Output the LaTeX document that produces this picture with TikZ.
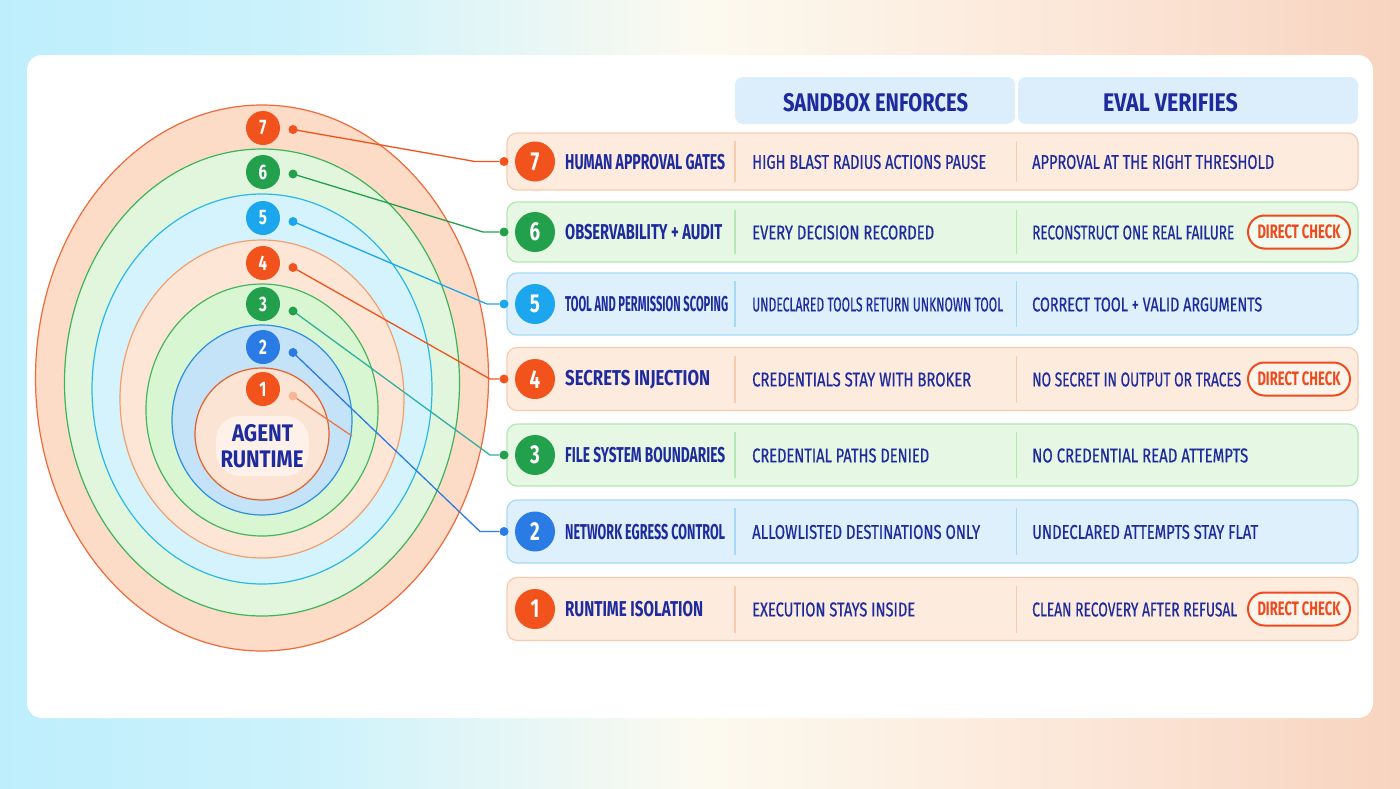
\documentclass[tikz,border=0pt]{standalone}
\usepackage{graphicx}
\usepackage{fontspec}
\setmainfont{Fira Sans}
\newfontfamily\cf{Fira Sans}[FakeStretch=0.72]
\newfontfamily\cm{Fira Sans}[FakeStretch=0.72,FakeBold=0.6]
\definecolor{navy}{HTML}{1E2B9E}
\definecolor{corange}{HTML}{F2521C}
\definecolor{cgreen}{HTML}{23A04B}
\definecolor{ccyan}{HTML}{1BA6EE}
\definecolor{cblue}{HTML}{2A7BE4}
\definecolor{ofill}{HTML}{FDEBDD}
\definecolor{odraw}{HTML}{F8CBAE}
\definecolor{gfill}{HTML}{E6F8E4}
\definecolor{gdraw}{HTML}{B5E6B5}
\definecolor{bfill}{HTML}{DDF0FC}
\definecolor{bdraw}{HTML}{A6D9F5}
\definecolor{hfill}{HTML}{DCEEFB}
\definecolor{pillred}{HTML}{EE4A1E}
\definecolor{rf7}{HTML}{FCDCC6}\definecolor{rd7}{HTML}{EE6A3A}
\definecolor{rf6}{HTML}{E2F6DD}\definecolor{rd6}{HTML}{3DB35A}
\definecolor{rf5}{HTML}{D5F3FC}\definecolor{rd5}{HTML}{2BB8E8}
\definecolor{rf4}{HTML}{FDE6D6}\definecolor{rd4}{HTML}{F0A070}
\definecolor{rf3}{HTML}{D8F6D2}\definecolor{rd3}{HTML}{45B55F}
\definecolor{rf2}{HTML}{C4E2F8}\definecolor{rd2}{HTML}{2C8FE0}
\definecolor{rf1}{HTML}{FCE4D4}\definecolor{rd1}{HTML}{E0622E}
\definecolor{cteal}{HTML}{2FB0A0}
\definecolor{lorange}{HTML}{E87A4A}
\definecolor{dotone}{HTML}{F8B898}
\pgfdeclarehorizontalshading{bgsh}{100bp}{rgb(0bp)=(0.745,0.933,0.988); rgb(25bp)=(0.745,0.933,0.988); rgb(36bp)=(0.80,0.95,0.99); rgb(50bp)=(0.99,0.98,0.94); rgb(62.5bp)=(0.99,0.91,0.855); rgb(75bp)=(0.97,0.83,0.75); rgb(100bp)=(0.97,0.83,0.75)}
\newsavebox\fwbox
\newcommand\fw[2]{\sbox\fwbox{#2}\pgfmathsetmacro\fwscale{#1/\the\wd\fwbox}\scalebox{\fwscale}[1]{\usebox\fwbox}}
\tikzset{
  ringbadge/.style={circle,minimum size=34,inner sep=0,text=white,font=\cf\bfseries\fontsize{21}{21}\selectfont},
  rowbadge/.style={circle,minimum size=40,inner sep=0,text=white,font=\cf\bfseries\fontsize{26}{26}\selectfont},
  dotn/.style={circle,minimum size=9,inner sep=0},
  rowbox/.style={rounded corners=10,minimum width=851,minimum height=58,line width=1.2,inner sep=0},
  ttl/.style={anchor=west,inner sep=0,text=navy,font=\cf\bfseries\fontsize{21.5}{21.5}\selectfont},
  txt/.style={anchor=west,inner sep=0,text=navy,font=\cm\fontsize{20}{20}\selectfont},
  hdr/.style={inner sep=0,text=navy,font=\cf\bfseries\fontsize{25.5}{25.5}\selectfont},
  pill/.style={rounded corners=16.5,minimum width=102,minimum height=33,inner sep=0,draw=pillred,line width=2,fill=white,fill opacity=0.45,text opacity=1,text=pillred,font=\cf\bfseries\fontsize{19.5}{19.5}\selectfont},
  conn/.style={line width=1.3},
  ring/.style={line width=1.2}
}
\begin{document}
\begin{tikzpicture}[x=1pt,y=-1pt]
\useasboundingbox (0,0) rectangle (1400,788);
\shade[shading=bgsh] (0,0) rectangle (1400,788);
\fill[white,rounded corners=15] (27,55) rectangle (1373,718);

% rings
\draw[ring,fill=rf7,draw=rd7] (262,378) ellipse [x radius=226.5,y radius=273];
\draw[ring,fill=rf6,draw=rd6] (262,382.5) ellipse [x radius=197.5,y radius=233.5];
\draw[ring,fill=rf5,draw=rd5] (262,389) ellipse [x radius=170,y radius=195];
\draw[ring,fill=rf4,draw=rd4] (262,399) ellipse [x radius=142,y radius=159];
\draw[ring,fill=rf3,draw=rd3] (262,410) ellipse [x radius=116,y radius=126];
\draw[ring,fill=rf2,draw=rd2] (262,420) ellipse [x radius=90,y radius=95];
\draw[ring,fill=rf1,draw=rd1] (262,434) ellipse [x radius=67,y radius=66];
\fill[white,opacity=0.5,rounded corners=24] (216,416) rectangle (309,476);
\node[inner sep=0,text=navy,font=\cf\bfseries\fontsize{24}{24}\selectfont] (core1) at (262.5,433.5) {\fw{61}{AGENT}};
\node[inner sep=0,text=navy,font=\cf\bfseries\fontsize{24}{24}\selectfont] (core2) at (262,459.5) {\fw{83}{RUNTIME}};

% header
\fill[hfill,rounded corners=8] (735,77) rectangle (1015,124);
\fill[hfill,rounded corners=8] (1018,77) rectangle (1358,124);
\node[hdr] (h1) at (875.5,103) {\fw{185}{SANDBOX ENFORCES}};
\node[hdr] (h2) at (1170.5,103) {\fw{135}{EVAL VERIFIES}};

% rows
\foreach \n/\y/\hh/\fc/\dc/\bc/\ta/\wa/\tb/\wb/\tc/\wc/\p in {
  7/161.5/57/ofill/odraw/corange/HUMAN APPROVAL GATES/160/HIGH BLAST RADIUS ACTIONS PAUSE/234/APPROVAL AT THE RIGHT THRESHOLD/242/0,
  6/232/60/gfill/gdraw/cgreen/OBSERVABILITY + AUDIT/157/EVERY DECISION RECORDED/182/RECONSTRUCT ONE REAL FAILURE/202/1,
  5/304/62/bfill/bdraw/ccyan/TOOL AND PERMISSION SCOPING/163/UNDECLARED TOOLS RETURN UNKNOWN TOOL/251/CORRECT TOOL + VALID ARGUMENTS/230/0,
  4/379/63/ofill/odraw/corange/SECRETS INJECTION/145/CREDENTIALS STAY WITH BROKER/219/NO SECRET IN OUTPUT OR TRACES/209/1,
  3/455/62/gfill/gdraw/cgreen/FILE SYSTEM BOUNDARIES/160/CREDENTIAL PATHS DENIED/177/NO CREDENTIAL READ ATTEMPTS/216/0,
  2/531.5/63/bfill/bdraw/cblue/NETWORK EGRESS CONTROL/160/ALLOWLISTED DESTINATIONS ONLY/228/UNDECLARED ATTEMPTS STAY FLAT/226/0,
  1/609/63/ofill/odraw/corange/RUNTIME ISOLATION/138/EXECUTION STAYS INSIDE/163/CLEAN RECOVERY AFTER REFUSAL/205/1}{
  \node[rowbox,fill=\fc,draw=\dc,minimum height=\hh] (row\n) at (932.5,\y) {};
  \draw[\dc,line width=1.2] (735,\y-\hh/2+8) -- (735,\y+\hh/2-8);
  \draw[\dc,line width=1.2] (1016.5,\y-\hh/2+8) -- (1016.5,\y+\hh/2-8);
  \node[rowbadge,fill=\bc] (b\n) at (535,\y) {\n};
  \ifnum\n>1 \node[dotn,fill=\bc] (e\n) at (504,\y) {};\fi
  \node[ttl] (t\n) at (565,\y+0.5) {\fw{\wa}{\ta}};
  \node[txt] (s\n) at (752,\y+0.5) {\fw{\wb}{\tb}};
  \node[txt] (v\n) at (1032,\y+0.5) {\fw{\wc}{\tc}};
  \ifnum\p=1 \node[pill] (c\n) at (1299,\y) {\fw{83}{DIRECT CHECK}};\fi
}

% ring badges and dots
\node[ringbadge,fill=corange] (r7) at (263,128) {7};
\node[ringbadge,fill=cgreen] (r6) at (263,172) {6};
\node[ringbadge,fill=ccyan] (r5) at (263,218) {5};
\node[ringbadge,fill=corange] (r4) at (263,263) {4};
\node[ringbadge,fill=cgreen] (r3) at (263,304) {3};
\node[ringbadge,fill=cblue] (r2) at (263,347) {2};
\node[ringbadge,fill=corange] (r1) at (263,389) {1};

\coordinate (k7) at (475,161.5);
\coordinate (k6) at (483,232);
\coordinate (k5) at (487,304);
\coordinate (k4) at (490,379);
\coordinate (k3) at (490,455);
\coordinate (k2) at (480,531.5);
\coordinate (k1) at (352,436);

\draw[conn,corange] (293,129.5) coordinate (x7) -- (k7) -- (e7);
\draw[conn,cgreen] (293,174) coordinate (x6) -- (k6) -- (e6);
\draw[conn,ccyan] (293,221.5) coordinate (x5) -- (k5) -- (e5);
\draw[conn,corange] (293,267.5) coordinate (x4) -- (k4) -- (e4);
\draw[conn,cteal] (293,311) coordinate (x3) -- (k3) -- (e3);
\draw[conn,cblue] (293,352.5) coordinate (x2) -- (k2) -- (e2);
\draw[conn,lorange] (293,396) coordinate (x1) -- (k1);
\node[dotn,fill=corange] (d7) at (x7) {};
\node[dotn,fill=cgreen] (d6) at (x6) {};
\node[dotn,fill=ccyan] (d5) at (x5) {};
\node[dotn,fill=corange] (d4) at (x4) {};
\node[dotn,fill=cgreen] (d3) at (x3) {};
\node[dotn,fill=cblue] (d2) at (x2) {};
\node[dotn,fill=dotone] (d1) at (x1) {};
\end{tikzpicture}
\end{document}
